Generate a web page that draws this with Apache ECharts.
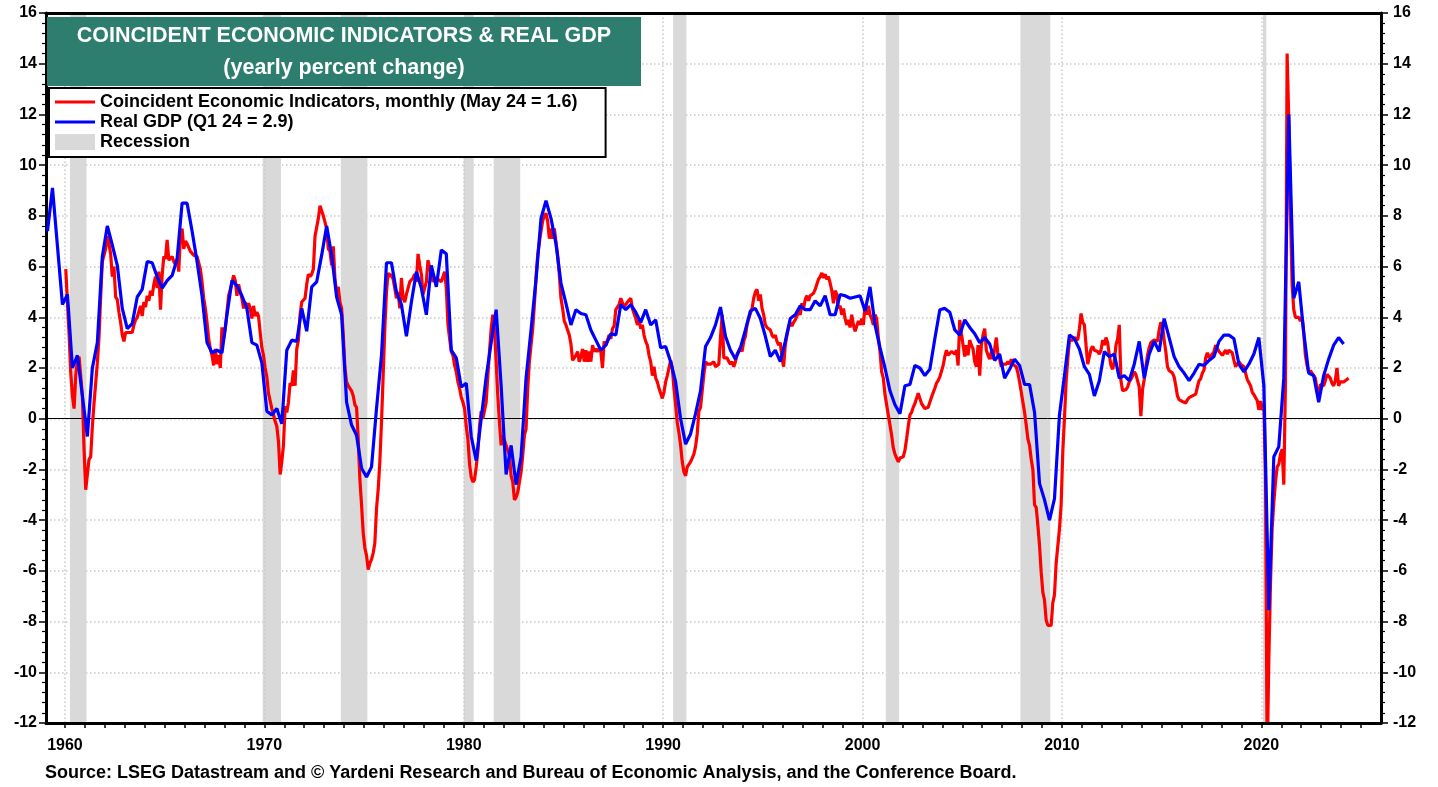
<!DOCTYPE html>
<html lang="en">
<head>
<meta charset="UTF-8">
<title>Coincident Economic Indicators & Real GDP</title>
<style>
  html, body { margin: 0; padding: 0; background: #fff; }
  #main { width: 1438px; height: 787px; }
</style>
</head>
<body>
<div id="main"></div>
<script src="https://cdn.jsdelivr.net/npm/echarts@6.0.0/dist/echarts.min.js"></script>
<script>
var FONT = '"Liberation Sans", Arial, sans-serif';

// Coincident Economic Indicators, yoy %, monthly from Jan 1960 (one row per year)
var CEI_START = 1960;
var ceiMonthly = [
  5.9, 4.6, 3.3, 1.8, 0.9, 0.4, 1.7, 2.3, 2.45, 2.4, 0.9, -1.2,
  -2.8, -2.8, -1.6, -1.5, -0.3, 0.6, 1.4, 2.2, 3.2, 4.8, 6.2, 6.2,
  6.7, 7.2, 6.9, 6.5, 5.6, 6.0, 4.8, 4.7, 4.2, 3.8, 3.3, 3.05,
  3.4, 3.4, 3.4, 3.4, 3.4, 3.7, 3.9, 4.0, 4.0, 4.45, 4.05, 4.6,
  4.4, 4.85, 4.65, 5.05, 4.85, 5.3, 5.6, 5.15, 5.8, 4.3, 5.65, 6.4,
  6.3, 7.05, 6.25, 6.2, 6.4, 6.2, 6.1, 6.3, 5.8, 7.25, 7.5, 6.7,
  7.0, 6.9, 6.85, 6.6, 6.6, 6.45, 6.45, 6.4, 6.45, 5.9, 5.4, 4.75,
  4.35, 3.8, 3.15, 2.75, 2.5, 2.1, 2.75, 2.15, 2.5, 2.0, 3.6, 3.15,
  3.55, 4.2, 4.85, 5.1, 5.35, 5.65, 5.45, 4.85, 5.3, 5.0, 4.75, 4.35,
  4.6, 4.35, 4.55, 4.35, 3.95, 4.45, 4.05, 4.2, 4.05, 3.4, 2.8, 2.5,
  2.0, 1.65, 1.0, 0.7, 0.4, 0.4, -0.1, -0.3, -0.9, -2.2, -1.7, -1.05,
  0.5, 0.25, 0.65, 1.4, 1.3, 1.9, 1.3, 2.75, 3.1, 4.1, 4.6, 4.6,
  4.75, 5.3, 5.7, 5.6, 5.7, 5.9, 7.2, 7.2, 7.9, 8.4, 8.4, 8.0,
  8.0, 7.5, 6.7, 6.6, 6.05, 6.8, 5.5, 5.0, 5.2, 4.6, 4.35, 3.3,
  2.0, 1.45, 1.3, 1.2, 1.1, 0.9, 0.55, 0.45, -0.8, -2.4, -3.4, -4.5,
  -5.1, -5.4, -5.95, -5.7, -5.55, -5.3, -4.9, -3.55, -2.8, -1.7, -0.15, 1.7,
  3.55, 5.0, 5.75, 5.6, 5.7, 5.5, 5.15, 4.75, 5.0, 4.35, 5.55, 4.75,
  4.6, 4.9, 5.15, 5.4, 5.35, 5.55, 5.7, 5.4, 6.5, 6.05, 5.7, 4.9,
  5.15, 5.4, 6.25, 5.95, 5.7, 5.4, 5.55, 5.6, 5.5, 5.5, 5.4, 5.6,
  5.8, 5.15, 3.7, 3.15, 2.65, 2.5, 2.1, 1.85, 1.45, 1.2, 0.85, 0.65,
  0.4, -0.3, -0.8, -1.8, -2.3, -2.5, -2.4, -1.9, -1.3, -0.3, 0.3, 0.0,
  0.0, 0.65, 1.7, 2.65, 3.55, 4.1, 3.55, 2.25, 0.9, -0.15, -1.05, -0.65,
  -0.6, -1.05, -1.0, -1.45, -2.25, -2.5, -3.2, -3.1, -2.9, -2.5, -2.1, -1.45,
  -0.65, -0.4, 1.2, 2.25, 2.9, 3.55, 4.5, 5.55, 6.45, 6.95, 7.4, 7.8,
  8.0, 8.1, 7.8, 7.1, 7.5, 7.1, 7.5, 7.5, 6.45, 5.7, 4.75, 4.35,
  3.85, 3.7, 3.65, 3.3, 2.95, 2.3, 2.25, 2.5, 2.65, 2.25, 2.45, 2.75,
  2.25, 2.7, 2.25, 2.65, 2.25, 2.9, 2.65, 2.75, 2.65, 2.75, 2.65, 2.0,
  3.05, 2.9, 2.9, 3.3, 3.15, 3.55, 3.65, 4.3, 4.35, 4.5, 4.75, 4.8,
  4.4, 4.5, 4.6, 4.6, 4.75, 4.35, 4.15, 3.95, 3.7, 3.9, 3.55, 3.7,
  3.3, 3.05, 2.9, 2.5, 2.25, 1.7, 2.05, 1.6, 1.45, 1.2, 1.0, 0.8,
  1.05, 1.45, 1.7, 2.0, 2.3, 2.0, 1.2, 0.55, -0.15, -0.55, -1.05, -1.7,
  -2.1, -2.25, -1.9, -1.8, -1.7, -1.55, -1.4, -1.1, -0.6, 0.3, 0.45, 1.1,
  1.75, 2.25, 2.15, 2.2, 2.15, 2.2, 2.25, 2.05, 2.0, 2.15, 3.2, 4.1,
  2.4, 2.45, 2.4, 2.25, 2.15, 2.25, 2.05, 2.25, 2.55, 2.6, 2.8, 2.65,
  3.05, 3.25, 3.7, 3.95, 4.15, 4.35, 4.75, 5.0, 5.1, 4.65, 4.9, 4.35,
  4.1, 3.7, 3.6, 3.6, 3.5, 3.3, 3.2, 3.3, 3.05, 2.9, 3.0, 2.4,
  2.05, 2.9, 3.3, 3.6, 3.8, 3.65, 3.8, 3.9, 4.05, 4.25, 4.1, 4.55,
  4.35, 4.7, 4.85, 4.65, 4.85, 4.9, 4.95, 5.1, 5.3, 5.5, 5.6, 5.75,
  5.55, 5.7, 5.5, 5.6, 5.35, 5.05, 4.55, 5.05, 4.9, 4.35, 4.45, 4.1,
  4.35, 3.95, 3.7, 3.9, 3.6, 4.1, 3.7, 3.45, 3.5, 3.85, 3.7, 3.95,
  3.7, 4.45, 4.1, 4.45, 4.1, 3.95, 3.7, 4.1, 3.95, 3.2, 2.65, 1.85,
  1.6, 0.95, 0.55, 0.15, -0.25, -0.65, -1.15, -1.4, -1.55, -1.7, -1.55, -1.5,
  -1.5, -1.25, -0.8, -0.3, 0.15, 0.25, 0.45, 0.6, 0.6, 1.0, 1.0, 0.6,
  0.55, 0.4, 0.45, 0.45, 0.4, 0.85, 0.8, 1.2, 1.4, 1.5, 1.65, 1.7,
  2.1, 2.45, 2.7, 2.5, 2.45, 2.65, 2.7, 2.55, 2.7, 2.1, 3.9, 3.35,
  2.9, 2.45, 2.9, 2.5, 3.1, 2.9, 2.75, 2.25, 2.05, 2.9, 1.7, 2.9,
  3.3, 3.55, 2.7, 2.5, 2.35, 2.65, 2.35, 2.75, 3.2, 2.5, 2.35, 2.05,
  2.15, 2.1, 2.15, 2.25, 2.15, 2.35, 2.15, 2.1, 2.05, 1.8, 1.45, 1.05,
  0.65, 0.25, -0.25, -0.8, -1.05, -1.6, -2.0, -3.4, -3.5, -4.2, -5.0, -6.05,
  -6.85, -7.15, -7.95, -8.15, -8.2, -8.15, -7.25, -6.95, -5.7, -5.65, -4.35, -3.4,
  -1.3, 0.0, 1.45, 2.35, 3.1, 3.15, 3.1, 3.2, 3.15, 3.1, 3.55, 4.15,
  3.8, 3.7, 2.9, 2.15, 2.45, 2.75, 2.85, 2.7, 2.75, 2.65, 2.55, 2.7,
  3.1, 2.9, 3.2, 3.0, 2.5, 2.1, 1.95, 2.25, 2.9, 3.15, 3.7, 1.5,
  1.1, 1.05, 1.15, 1.25, 1.45, 1.55, 1.7, 1.85, 1.75, 1.5, 1.25, 0.1,
  1.15, 1.55, 2.05, 2.5, 2.8, 3.0, 3.05, 3.1, 3.15, 3.05, 3.5, 3.8,
  3.7, 3.1, 2.65, 2.05, 1.9, 1.9, 1.8, 1.65, 1.3, 0.9, 0.75, 0.75,
  0.68, 0.72, 0.62, 0.75, 0.83, 0.9, 0.9, 0.92, 0.97, 1.25, 1.5, 1.58,
  1.8, 1.92, 2.4, 2.6, 2.4, 2.45, 2.55, 2.65, 2.9, 2.9, 2.65, 2.72,
  2.5, 2.5, 2.7, 2.55, 2.7, 2.72, 2.6, 2.3, 2.05, 2.08, 2.25, 2.15,
  2.15, 2.05, 1.8, 1.55, 1.5, 1.3, 1.05, 0.95, 0.88, 0.72, 0.35, 0.7,
  0.35, 0.6, -2.3, -13.5, -9.5, -6.5, -4.3, -3.3, -2.5, -1.9, -1.8, -1.4,
  -1.2, -2.6, 1.4, 14.4, 11.8, 8.2, 5.3, 4.3, 4.0, 4.0, 4.0, 3.85,
  4.0, 3.4, 2.5, 2.1, 1.82, 1.9, 1.85, 1.7, 1.6, 1.15, 0.95, 1.35,
  1.4, 1.3, 1.5, 1.75, 1.8, 1.6, 1.4, 1.3, 1.5, 2.0, 1.3, 1.45,
  1.4, 1.45, 1.5, 1.55, 1.6
];

// Real GDP, yoy %, quarterly from 1959 Q1 (one row per year)
var GDP_START = 1959;
var gdpQuarterly = [
  7.4, 9.1, 6.8, 4.5,
  4.9, 2.0, 2.5, 0.9,
  -0.7, 2.0, 3.0, 6.4,
  7.6, 6.85, 6.05, 4.35,
  3.55, 3.75, 4.8, 5.1,
  6.2, 6.15, 5.6, 5.15,
  5.45, 5.65, 6.3, 8.5,
  8.5, 7.4, 6.2, 4.85,
  3.0, 2.6, 2.7, 2.6,
  4.1, 5.45, 5.25, 4.85,
  4.35, 3.0, 2.9, 2.2,
  0.3, 0.15, 0.4, -0.2,
  2.7, 3.1, 3.05, 4.35,
  3.45, 5.2, 5.4, 6.45,
  7.6, 6.45, 4.8, 4.1,
  0.65, -0.25, -0.65, -1.95,
  -2.3, -1.9, 0.4, 2.5,
  6.15, 6.15, 5.0, 4.5,
  3.25, 4.6, 5.8, 5.15,
  4.1, 6.05, 5.2, 6.65,
  6.5, 2.7, 2.4, 1.25,
  1.4, -0.7, -1.65, 0.0,
  1.65, 3.0, 4.3, 1.3,
  -2.2, -1.05, -2.6, -1.5,
  1.6, 3.5, 5.5, 7.9,
  8.6, 7.9, 6.9, 5.35,
  4.55, 3.7, 4.3, 4.15,
  4.1, 3.5, 3.1, 2.7,
  2.9, 3.35, 3.3, 4.5,
  4.3, 4.5, 4.2, 3.8,
  4.3, 3.7, 3.9, 2.8,
  2.85, 2.25, 1.45, 0.0,
  -1.0, -0.6, 0.2, 1.1,
  2.85, 3.2, 3.7, 4.4,
  3.25, 2.7, 2.35, 2.8,
  3.5, 4.25, 4.35, 3.95,
  3.25, 2.45, 2.7, 2.25,
  3.05, 3.95, 4.1, 4.45,
  4.3, 4.3, 4.65, 4.45,
  4.85, 4.1, 4.1, 4.9,
  4.85, 4.75, 4.8, 4.85,
  4.25, 5.2, 3.7, 2.8,
  2.0, 1.1, 0.55, 0.2,
  1.3, 1.35, 2.1, 2.0,
  1.7, 1.95, 3.15, 4.3,
  4.35, 4.2, 3.5, 3.3,
  3.9, 3.6, 3.35, 3.0,
  3.2, 2.95, 2.3, 2.55,
  1.6, 1.95, 2.35, 2.1,
  1.35, 1.35, 0.25, -2.55,
  -3.2, -4.0, -3.15, 0.15,
  1.7, 3.3, 3.15, 2.75,
  2.05, 1.75, 0.9, 1.5,
  2.65, 2.45, 2.55, 1.6,
  1.7, 1.5, 2.15, 3.05,
  1.6, 2.55, 3.05, 2.65,
  3.95, 3.2, 2.45, 2.05,
  1.8, 1.5, 1.8, 2.15,
  2.1, 2.3, 2.45, 3.05,
  3.3, 3.3, 3.15, 2.15,
  1.85, 2.15, 2.55, 3.2,
  1.3, -7.55, -1.5, -1.1,
  1.6, 12.0, 4.75, 5.4,
  3.4, 1.8, 1.7, 0.65,
  1.7, 2.35, 2.9, 3.2,
  2.95
];

// recession periods as decimal years [start, end]
var recessions = [
  [1960.25, 1961.083], [1969.917, 1970.833], [1973.833, 1975.167],
  [1980.0, 1980.5], [1981.5, 1982.833], [1990.5, 1991.167],
  [2001.167, 2001.833], [2007.917, 2009.417], [2020.083, 2020.25]
];

var decadeLabels = [1960, 1970, 1980, 1990, 2000, 2010, 2020];
var yearTicks = [];
for (var y = 1960; y <= 2025; y++) yearTicks.push(y);

var ceiName = 'Coincident Economic Indicators, monthly (May 24 = 1.6)';
var gdpName = 'Real GDP (Q1 24 = 2.9)';

var ceiData = ceiMonthly.map(function (v, i) { return [CEI_START + i / 12 + 1 / 24, v]; });
var gdpData = gdpQuarterly.map(function (v, i) { return [GDP_START + i / 4 + 0.125, v]; });

var myChart = echarts.init(document.getElementById('main'));

var LINE_ICON = 'path://M0,0L40,0L40,3L0,3Z';

var option = {
  animation: false,
  backgroundColor: '#fff',
  textStyle: { fontFamily: FONT },
  grid: { left: 46, right: 57, top: 13, bottom: 64 },
  title: [{
    text: 'COINCIDENT ECONOMIC INDICATORS & REAL GDP\n(yearly percent change)',
    left: 344, top: 20, textAlign: 'center', padding: 0,
    textStyle: { color: '#fff', fontFamily: FONT, fontWeight: 'bold', fontSize: 21.5, lineHeight: 32 }
  }, {
    text: 'Source: LSEG Datastream and \u00a9 Yardeni Research and Bureau of Economic Analysis, and the Conference Board.',
    left: 45, top: 764, padding: 0,
    textStyle: { color: '#000', fontFamily: FONT, fontWeight: 'bold', fontSize: 18 }
  }],
  graphic: [{
    type: 'rect', z: 5, left: 47, top: 17,
    shape: { width: 594, height: 69 },
    style: { fill: '#2e7e70' }
  }],
  legend: {
    left: 49, top: 88, orient: 'vertical',
    selectedMode: false,
    backgroundColor: '#fff', borderColor: '#000', borderWidth: 2,
    padding: [5, 28, 6, 6],
    itemGap: 2, itemWidth: 40, itemHeight: 16,
    symbolKeepAspect: true,
    textStyle: { color: '#000', fontFamily: FONT, fontWeight: 'bold', fontSize: 18, lineHeight: 16 },
    data: [
      { name: ceiName, icon: LINE_ICON },
      { name: gdpName, icon: LINE_ICON },
      { name: 'Recession', icon: 'rect', itemStyle: { color: '#d9d9d9' } }
    ]
  },
  xAxis: [{
    type: 'value', position: 'bottom', min: 1959.05, max: 2026, z: 10,
    axisLine: { onZero: false, lineStyle: { color: '#000', width: 3 } },
    axisTick: { customValues: yearTicks, length: 5, lineStyle: { color: '#000', width: 1.5 } },
    axisLabel: {
      customValues: decadeLabels, margin: 15, color: '#000',
      fontFamily: FONT, fontWeight: 'bold', fontSize: 16,
      formatter: function (v) { return String(Math.round(v)); }
    },
    splitLine: { show: false }
  }, {
    type: 'value', position: 'top', min: 1959.05, max: 2026, z: 10,
    axisLine: { onZero: false, lineStyle: { color: '#000', width: 3 } },
    axisTick: { show: false }, axisLabel: { show: false }, splitLine: { show: false }
  }],
  yAxis: [{
    type: 'value', position: 'left', min: -12, max: 16, interval: 2,
    axisLine: { show: true, onZero: false, lineStyle: { color: '#000', width: 3 } },
    axisTick: { show: true, length: 7, lineStyle: { color: '#000', width: 1.5 } },
    minorTick: { show: true, splitNumber: 5, length: 4, lineStyle: { color: '#000', width: 1.2 } },
    axisLabel: { margin: 9, color: '#000', fontFamily: FONT, fontWeight: 'bold', fontSize: 16 },
    splitLine: { show: true, lineStyle: { color: '#c8c8c8', width: 1.5, type: [1.5, 2.5] } }
  }, {
    type: 'value', position: 'right', min: -12, max: 16, interval: 2, z: 10,
    axisLine: { show: true, onZero: false, lineStyle: { color: '#000', width: 3 } },
    axisTick: { show: true, length: 7, lineStyle: { color: '#000', width: 1.5 } },
    minorTick: { show: true, splitNumber: 5, length: 4, lineStyle: { color: '#000', width: 1.2 } },
    axisLabel: { margin: 12, color: '#000', fontFamily: FONT, fontWeight: 'bold', fontSize: 16 },
    splitLine: { show: false }
  }],
  series: [{
    name: 'Recession', type: 'line', data: [], color: '#d9d9d9', silent: true,
    markArea: {
      silent: true, z: 1,
      itemStyle: { color: '#d9d9d9' },
      data: recessions.map(function (r) { return [{ xAxis: r[0] }, { xAxis: r[1] }]; })
    }
  }, {
    name: 'grid', type: 'line', data: [], silent: true,
    markLine: {
      silent: true, z: 1.5, symbol: ['none', 'none'], label: { show: false },
      lineStyle: { color: '#c8c8c8', width: 1.5, type: [1.5, 2.5] },
      data: decadeLabels.map(function (d) { return { xAxis: d }; }).concat([{
        yAxis: 0, lineStyle: { color: '#000', width: 1, type: 'solid' }
      }])
    }
  }, {
    name: ceiName, type: 'line', data: ceiData, z: 2,
    symbol: 'none', color: '#ff0000',
    lineStyle: { color: '#ff0000', width: 3.2 }
  }, {
    name: gdpName, type: 'line', data: gdpData, z: 3,
    symbol: 'none', color: '#0000ff',
    lineStyle: { color: '#0000ff', width: 3.2 }
  }]
};

myChart.setOption(option);
</script>
</body>
</html>
